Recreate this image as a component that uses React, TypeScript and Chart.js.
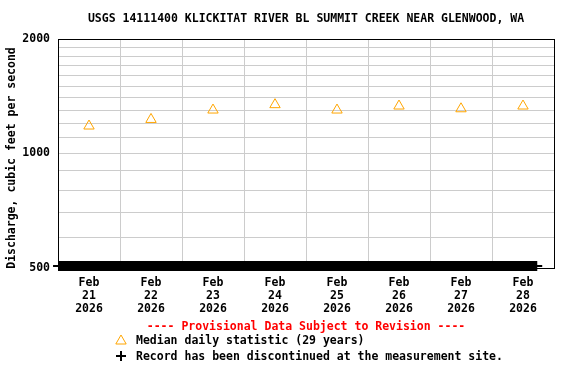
import { useEffect, useRef } from 'react';
import { Chart, registerables } from 'chart.js';

Chart.register(...registerables);

const TITLE = 'USGS 14111400 KLICKITAT RIVER BL SUMMIT CREEK NEAR GLENWOOD, WA';
const Y_TITLE = 'Discharge, cubic feet per second';
const PROVISIONAL = '---- Provisional Data Subject to Revision ----';
const LEGEND_MEDIAN = 'Median daily statistic (29 years)';
const LEGEND_RECORD = 'Record has been discontinued at the measurement site.';

const days = [21, 22, 23, 24, 25, 26, 27, 28];
const monthLabel = 'Feb';
const yearLabel = '2026';
const medianCfs = [1181, 1229, 1301, 1344, 1301, 1333, 1311, 1333];
const yGridValues = [500, 600, 700, 800, 900, 1000, 1100, 1200, 1300, 1400, 1500, 1600, 1700, 1800, 1900, 2000];
const yLabelValues = [500, 1000, 2000];
const xRange = [21, 29];
const yRange = [500, 2000];
const discontinuedBandX = [21, 28.73];
const discontinuedStubX = [20.92, 28.81];
const discontinuedValue = 506;

const FONT = "'DejaVu Sans Mono', 'Liberation Mono', monospace";
const ORANGE = '#FFA500';

const textPlugin = {
  id: 'usgsText',
  afterDraw(chart: any) {
    const ctx = chart.ctx as CanvasRenderingContext2D;
    const { left, right, top, bottom } = chart.chartArea;
    const cx = (left + right) / 2;
    ctx.save();
    // frame
    ctx.strokeStyle = '#000';
    ctx.lineWidth = 1;
    ctx.strokeRect(left + 0.5, top + 0.5, right - left, bottom - top);
    ctx.font = `bold 11.5px ${FONT}`;
    ctx.textBaseline = 'middle';
    // title
    ctx.fillStyle = '#000';
    ctx.textAlign = 'center';
    ctx.fillText(TITLE, cx, 19);
    // y axis title
    ctx.save();
    ctx.translate(12, 158);
    ctx.rotate(-Math.PI / 2);
    ctx.fillText(Y_TITLE, 0, 0);
    ctx.restore();
    // provisional
    ctx.fillStyle = '#FF0000';
    ctx.fillText(PROVISIONAL, cx, 327);
    // legend
    ctx.textAlign = 'left';
    ctx.fillStyle = '#000';
    ctx.fillText(LEGEND_MEDIAN, 136, 341);
    ctx.fillText(LEGEND_RECORD, 136, 357);
    // triangle symbol
    const r = 6;
    const tx = 121, ty = 341;
    ctx.strokeStyle = ORANGE;
    ctx.lineWidth = 1;
    ctx.beginPath();
    ctx.moveTo(tx, ty - r);
    ctx.lineTo(tx + r * Math.sqrt(3) / 2, ty + r / 2);
    ctx.lineTo(tx - r * Math.sqrt(3) / 2, ty + r / 2);
    ctx.closePath();
    ctx.stroke();
    // plus symbol
    ctx.strokeStyle = '#000';
    ctx.lineWidth = 2;
    ctx.beginPath();
    ctx.moveTo(116, 356);
    ctx.lineTo(126, 356);
    ctx.moveTo(121, 351);
    ctx.lineTo(121, 361);
    ctx.stroke();
    ctx.restore();
  },
};

export default function App() {
  const ref = useRef<HTMLCanvasElement>(null);

  useEffect(() => {
    if (!ref.current) return;
    const chart = new Chart(ref.current, {
      type: 'scatter',
      data: {
        datasets: [
          {
            label: 'median',
            data: days.map((d, i) => ({ x: d + 0.5, y: medianCfs[i] })),
            pointStyle: 'triangle',
            pointRadius: 6,
            borderColor: ORANGE,
            backgroundColor: 'rgba(0,0,0,0)',
            borderWidth: 1,
            showLine: false,
            clip: false,
            order: 0,
          },
          {
            label: 'discontinued',
            data: discontinuedBandX.map((x) => ({ x, y: discontinuedValue })),
            showLine: true,
            borderColor: '#000',
            borderWidth: 10,
            borderCapStyle: 'butt',
            pointRadius: 0,
            clip: false,
            order: 1,
          },
          {
            label: 'discontinued-stub',
            data: discontinuedStubX.map((x) => ({ x, y: discontinuedValue })),
            showLine: true,
            borderColor: '#000',
            borderWidth: 2,
            pointRadius: 0,
            clip: false,
            order: 2,
          },
        ] as any,
      },
      options: {
        animation: false,
        responsive: false,
        devicePixelRatio: 1,
        layout: { padding: { top: 39, right: 22, bottom: 0, left: 0 } },
        plugins: {
          legend: { display: false },
          tooltip: { enabled: false },
          title: { display: false },
        },
        scales: {
          x: {
            type: 'linear',
            min: xRange[0],
            max: xRange[1],
            afterBuildTicks: (scale: any) => {
              scale.ticks = days.map((d) => ({ value: d + 0.5 }));
            },
            afterFit: (scale: any) => {
              scale.height = 116;
            },
            grid: { offset: true, color: '#cccccc', drawTicks: false, lineWidth: 1 },
            border: { display: false },
            ticks: {
              autoSkip: false,
              maxRotation: 0,
              padding: 9,
              color: '#000',
              font: { family: FONT, size: 11.5, weight: 'bold', lineHeight: 13 / 11.5 },
              callback: (_v: any, i: number) => [monthLabel, String(days[i]), yearLabel],
            },
          },
          y: {
            type: 'logarithmic',
            min: yRange[0],
            max: yRange[1],
            afterBuildTicks: (scale: any) => {
              scale.ticks = yGridValues.map((v) => ({ value: v }));
            },
            afterFit: (scale: any) => {
              scale.width = 58;
            },
            grid: { color: '#cccccc', drawTicks: false, lineWidth: 1 },
            border: { display: false },
            ticks: {
              autoSkip: false,
              padding: 8,
              color: '#000',
              font: { family: FONT, size: 11.5, weight: 'bold' },
              callback: (v: any) => (yLabelValues.includes(Number(v)) ? String(v) : ''),
            },
            title: { display: false },
          },
        },
      } as any,
      plugins: [textPlugin],
    });
    return () => chart.destroy();
  }, []);

  return (
    <div style={{ position: 'fixed', left: 0, top: 0, width: 576, height: 384, background: '#fff' }}>
      <canvas ref={ref} width={576} height={384} style={{ display: 'block' }} />
    </div>
  );
}
